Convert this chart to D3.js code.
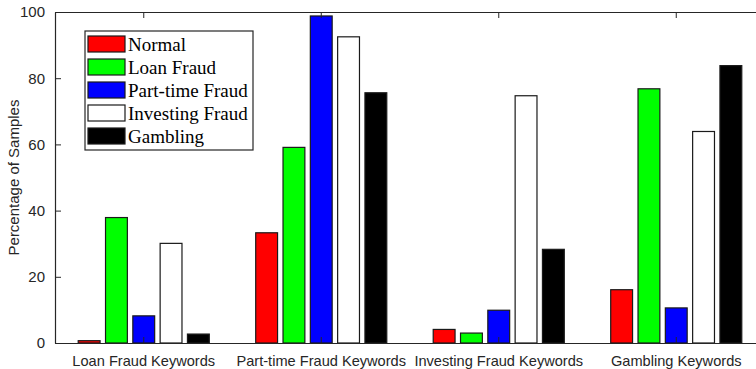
<!DOCTYPE html>
<html>
<head>
<meta charset="utf-8">
<script src="https://cdn.jsdelivr.net/npm/d3@7/dist/d3.min.js"></script>
<style>
  html, body { margin: 0; padding: 0; background: #fff; }
  svg { display: block; }
</style>
</head>
<body>
<svg id="chart" width="756" height="369"></svg>
<script>
// Keyword groups along the x axis
const categories = ["Loan Fraud Keywords", "Part-time Fraud Keywords", "Investing Fraud Keywords", "Gambling Keywords"];
// Sample classes (one bar per class in each group)
const seriesNames = ["Normal", "Loan Fraud", "Part-time Fraud", "Investing Fraud", "Gambling"];
const seriesColors = ["#ff0000", "#00ff00", "#0000ff", "#ffffff", "#000000"];
// Percentage of samples, per class, in group order
const normal = [0.7, 33.3, 4.1, 16.1];
const loanFraud = [37.9, 59.1, 3.0, 76.8];
const partTimeFraud = [8.2, 98.8, 9.9, 10.6];
const investingFraud = [30.1, 92.5, 74.7, 63.9];
const gambling = [2.7, 75.6, 28.3, 83.8];
const yTicks = [0, 20, 40, 60, 80, 100];

const seriesValues = [normal, loanFraud, partTimeFraud, investingFraud, gambling];

const svg = d3.select("#chart");
const margin = { left: 55, right: -9, top: 12, bottom: 26 };
const W = 756, H = 369;
const x0 = margin.left, x1 = W - margin.right;
const y0 = H - margin.bottom, y1 = margin.top;
const axisColor = "#262626";

const x = d3.scaleBand().domain(categories).range([x0, x1]).padding(0);
const groupFrac = 5 / 6.5;
const xInner = d3.scaleBand().domain(seriesNames)
  .range([0, x.bandwidth() * groupFrac]).paddingInner(0.2).paddingOuter(0.1);
const y = d3.scaleLinear().domain([0, 100]).range([y0, y1]);

// Bars
const groups = svg.append("g").selectAll("g")
  .data(categories)
  .join("g")
  .attr("transform", c => `translate(${x(c) + x.bandwidth() * (1 - groupFrac) / 2},0)`);

groups.selectAll("rect")
  .data((c, i) => seriesNames.map((s, k) => ({ s, k, v: seriesValues[k][i] })))
  .join("rect")
  .attr("x", d => xInner(d.s))
  .attr("width", xInner.bandwidth())
  .attr("y", d => y(d.v))
  .attr("height", d => y(0) - y(d.v))
  .attr("fill", d => seriesColors[d.k])
  .attr("stroke", "#1a1a1a")
  .attr("stroke-width", 1.2);

// Axes (ticks pointing inward, box on)
const tickLen = 6;
const fontSans = "'Liberation Sans', Arial, sans-serif";

const leftAxis = svg.append("g").attr("transform", `translate(${x0},0)`)
  .call(d3.axisLeft(y).tickValues(yTicks).tickSizeInner(-tickLen).tickSizeOuter(0).tickPadding(10));
const rightAxis = svg.append("g").attr("transform", `translate(${x1},0)`)
  .call(d3.axisRight(y).tickValues(yTicks).tickSizeInner(-tickLen).tickSizeOuter(0).tickFormat(""));
const bottomAxis = svg.append("g").attr("transform", `translate(0,${y0})`)
  .call(d3.axisBottom(x).tickSizeInner(-tickLen).tickSizeOuter(0).tickPadding(13));
const topAxis = svg.append("g").attr("transform", `translate(0,${y1})`)
  .call(d3.axisTop(x).tickSizeInner(-tickLen).tickSizeOuter(0).tickFormat(""));

[leftAxis, rightAxis, bottomAxis, topAxis].forEach(a => {
  a.selectAll("path.domain").attr("stroke", axisColor).attr("stroke-width", 1.2);
  a.selectAll(".tick line").attr("stroke", axisColor).attr("stroke-width", 1);
  a.selectAll("text").attr("fill", axisColor).style("font-family", fontSans);
});
leftAxis.selectAll("text").style("font-size", "15px");
bottomAxis.selectAll("text").style("font-size", "14.6px");

// Y axis title
svg.append("text")
  .attr("transform", `translate(19,${(y0 + y1) / 2}) rotate(-90)`)
  .attr("text-anchor", "middle")
  .style("font-family", fontSans)
  .style("font-size", "15px")
  .attr("fill", axisColor)
  .text("Percentage of Samples");

// Legend
const legend = svg.append("g").attr("transform", "translate(85,31)");
legend.append("rect")
  .attr("width", 168).attr("height", 119)
  .attr("fill", "#fff").attr("stroke", axisColor).attr("stroke-width", 1.2);
const rowH = 23;
const items = legend.selectAll("g.item").data(seriesNames).join("g")
  .attr("class", "item")
  .attr("transform", (d, i) => `translate(3,${5 + i * rowH})`);
items.append("rect")
  .attr("width", 37).attr("height", 16)
  .attr("fill", (d, i) => seriesColors[i])
  .attr("stroke", "#1a1a1a").attr("stroke-width", 1.2);
items.append("text")
  .attr("x", 40).attr("y", 14.5)
  .style("font-family", "'Liberation Serif', 'Times New Roman', serif")
  .style("font-size", "19px")
  .attr("fill", "#000")
  .text(d => d);
</script>
</body>
</html>
